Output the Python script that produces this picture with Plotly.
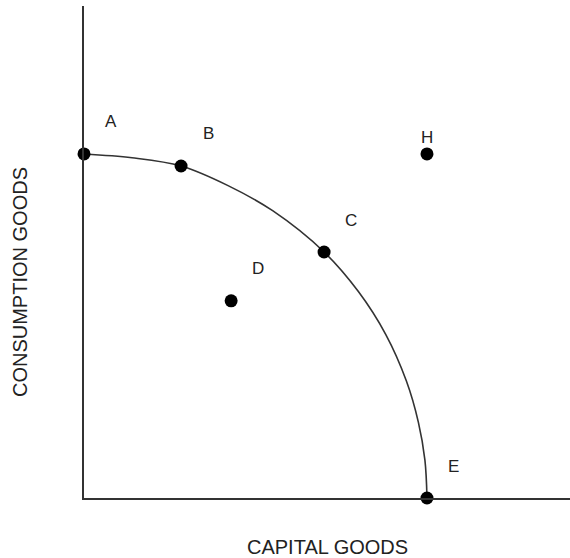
import plotly.graph_objects as go

# points on the diagram (units: curve radius = 100)
point_names = ["A", "B", "C", "D", "H", "E"]
point_x = [0, 28.3, 70.0, 42.9, 100, 100]
point_y = [100, 96.5, 71.5, 57.3, 100, 0]

# production possibilities frontier
curve_x = [0, 14, 28.3, 42, 55, 70.0, 80, 88, 94, 97.5, 99.4, 100]
curve_y = [100, 98.9, 96.5, 90.8, 83.5, 71.5, 60, 47.5, 34, 22, 11, 0]

x_title = "CAPITAL GOODS"
y_title = "CONSUMPTION GOODS"

line_col = "#333333"
font = dict(family="Arial, Liberation Sans, sans-serif", size=17, color="#222222")

fig = go.Figure()

fig.add_trace(go.Scatter(x=curve_x, y=curve_y, mode="lines",
                         line=dict(color=line_col, width=1.6, shape="spline", smoothing=1),
                         hoverinfo="skip", cliponaxis=False))

fig.add_trace(go.Scatter(x=point_x, y=point_y, mode="markers",
                         marker=dict(color="black", size=13),
                         text=point_names, cliponaxis=False))

for name, px, py_ in zip(point_names, point_x, point_y):
    dx, dy = (0, 16) if name == "H" else (27, 32)
    fig.add_annotation(x=px, y=py_, text=name, showarrow=False,
                       xshift=dx, yshift=dy, font=font)

fig.add_annotation(xref="paper", yref="paper", x=0.5, y=0, yanchor="top",
                   yshift=-36, text=x_title, showarrow=False,
                   font=dict(font, size=20))
fig.add_annotation(xref="paper", yref="paper", x=0, y=0.439, xanchor="center",
                   xshift=-64, text=y_title, textangle=-90, showarrow=False,
                   font=dict(font, size=20))

fig.update_xaxes(range=[0, 141.7], showgrid=False, zeroline=False, showticklabels=False,
                 showline=True, linecolor=line_col, linewidth=1.8, ticks="")
fig.update_yaxes(range=[0, 143.0], showgrid=False, zeroline=False, showticklabels=False,
                 showline=True, linecolor=line_col, linewidth=1.8, ticks="")

fig.update_layout(width=570, height=558, showlegend=False,
                  margin=dict(l=84, r=0, t=6, b=60),
                  plot_bgcolor="white", paper_bgcolor="white")

# page body has a default 8px margin, drop it so the chart fills the window
fig.write_html("out.html", config=dict(displayModeBar=False),
               post_script="document.body.style.margin='0';")
